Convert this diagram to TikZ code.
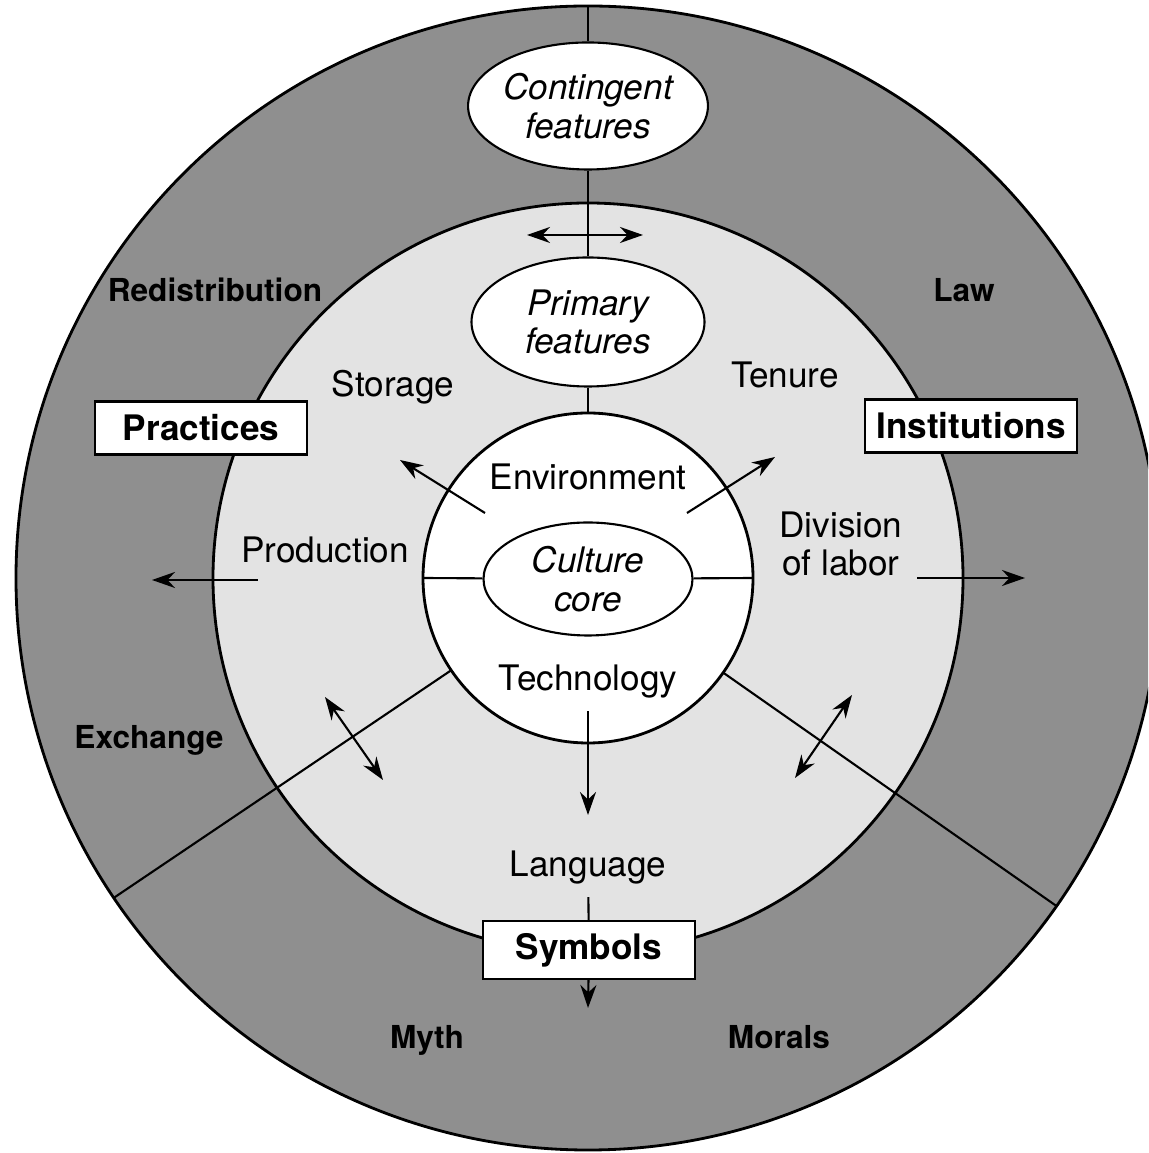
\documentclass[tikz,border=0pt]{standalone}
\usepackage{fontspec}
\setmainfont{TeX Gyre Heros}
\usetikzlibrary{arrows.meta,shapes.geometric}
\definecolor{outerring}{gray}{0.56}
\definecolor{innerring}{gray}{0.89}

\begin{document}
\begin{tikzpicture}[auto, font=\fontsize{10}{11}\selectfont,
    ring/.style ={circle, draw, thick, outer sep=0pt, inner sep=0pt},
    feature/.style ={ellipse, draw, semithick, fill=white, inner sep=0pt, align=center, font=\fontsize{10}{11}\selectfont\itshape},
    sector/.style ={rectangle, draw, semithick, fill=white, minimum width=2.12cm, minimum height=0.53cm, font=\fontsize{10}{11}\selectfont\bfseries},
    item/.style ={align=center},
    outeritem/.style ={font=\fontsize{9}{11}\selectfont\bfseries},
    link/.style ={-{Stealth[length=2.3mm,width=1.6mm]}, semithick},
    twoway/.style ={{Stealth[length=2.3mm,width=1.6mm]}-{Stealth[length=2.3mm,width=1.6mm]}, semithick}]
   \clip (-5.88,-5.75) rectangle (5.60,5.78);
   \fill[white] (-5.88,-5.75) rectangle (5.60,5.78);

   \node[ring, fill=outerring, minimum size=11.44cm] (outer) at (0,0) {};
   \node[ring, fill=innerring, minimum size=7.50cm] (middle) at (0,0) {};
   \node[ring, fill=white, minimum size=3.30cm] (inner) at (0,0) {};

   \node[feature, minimum width=2.09cm, minimum height=1.13cm] (core) at (0,-0.01) {Culture\\core};
   \node[feature, minimum width=2.37cm, minimum height=1.27cm] (contingent) at (0,4.72) {Contingent\\features};
   \node[feature, minimum width=2.33cm, minimum height=1.29cm] (primary) at (0,2.56) {Primary\\features};

   \draw[semithick] (outer.90) to (contingent);
   \draw[semithick] (contingent) to (primary);
   \draw[semithick] (primary) to (inner.90);
   \draw[semithick] (inner.180) to (core);
   \draw[semithick] (core) to (inner.0);
   \draw[semithick] (inner.214.5) to (outer.214.5);
   \draw[semithick] (inner.325.5) to (outer.325.5);

   \node[item] (environment) at (0,1.01) {Environment};
   \node[item] (technology) at (0,-1.04) {Technology};
   \node[item] (storage) at (-1.95,1.91) {Storage};
   \node[item] (tenure) at (1.97,2.03) {Tenure};
   \node[item] (production) at (-2.63,0.28) {Production};
   \node[item] (division) at (2.53,0.34) {Division\\of labor};
   \node[item] (language) at (0,-2.90) {Language};

   \node[outeritem] (redistribution) at (-3.73,2.88) {Redistribution};
   \node[outeritem] (law) at (3.76,2.88) {Law};
   \node[outeritem] (exchange) at (-4.39,-1.62) {Exchange};
   \node[outeritem] (myth) at (-1.61,-4.62) {Myth};
   \node[outeritem] (morals) at (1.91,-4.59) {Morals};

   \node[sector] (practices) at (-3.87,1.50) {Practices};
   \node[sector] (institutions) at (3.83,1.52) {Institutions};
   \node[sector] (symbols) at (0.01,-3.72) {Symbols};

   \coordinate (contleft) at (-0.61,3.43);
   \coordinate (contright) at (0.55,3.43);
   \coordinate (envleft) at (-1.03,0.65);
   \coordinate (storagetip) at (-1.88,1.18);
   \coordinate (envright) at (0.99,0.65);
   \coordinate (tenuretip) at (1.87,1.21);
   \coordinate (prodstart) at (-3.30,-0.02);
   \coordinate (prodtip) at (-4.36,-0.02);
   \coordinate (divstart) at (3.29,0);
   \coordinate (divtip) at (4.37,0);
   \coordinate (exchup) at (-2.63,-1.19);
   \coordinate (exchdown) at (-2.05,-2.02);
   \coordinate (lawup) at (2.64,-1.17);
   \coordinate (lawdown) at (2.07,-2.00);
   \coordinate (langtip) at (0,-2.37);
   \coordinate (symtip) at (0,-4.30);

   \draw[twoway] (contleft) to (contright);
   \draw[link] (envleft) to (storagetip);
   \draw[link] (envright) to (tenuretip);
   \draw[link] (prodstart) to (prodtip);
   \draw[link] (divstart) to (divtip);
   \draw[twoway] (exchup) to (exchdown);
   \draw[twoway] (lawup) to (lawdown);
   \draw[link] (technology) to (langtip);
   \draw[semithick] (language) to (symbols);
   \draw[link] (symbols) to (symtip);
 \end{tikzpicture}
\end{document}
